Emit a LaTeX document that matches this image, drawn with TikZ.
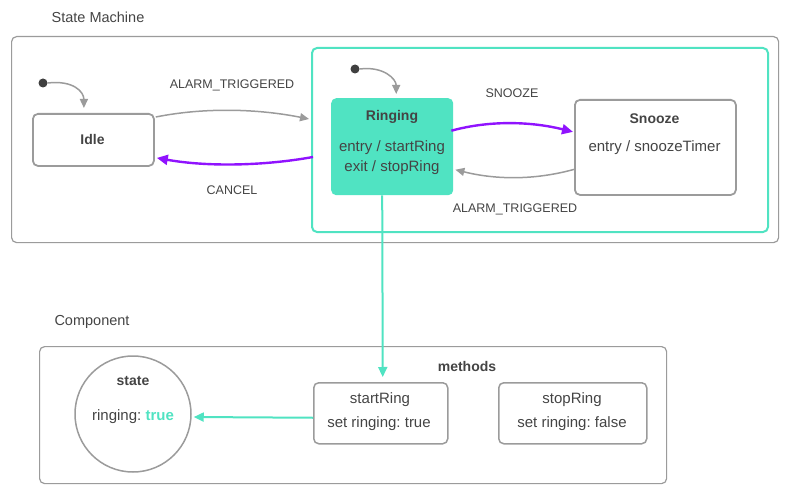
\documentclass[tikz,border=0pt]{standalone}
\usepackage{fontspec}
\setmainfont{Liberation Sans}
\usetikzlibrary{arrows.meta,calc}
\definecolor{tealc}{HTML}{50E3C2}
\definecolor{purp}{HTML}{9013FE}
\definecolor{gline}{HTML}{9B9B9B}
\definecolor{txt}{HTML}{444444}
\definecolor{dotc}{HTML}{3F3F3F}
\begin{document}
\begin{tikzpicture}[x=1pt,y=-1pt,
  frame/.style={draw=gline, line width=1.2pt, rounded corners=5pt, inner sep=0pt, anchor=north west},
  statebox/.style={draw=gline, line width=1.8pt, rounded corners=5pt, inner sep=0pt, anchor=north west},
  txtn/.style={text=txt, inner sep=0pt, font=\fontsize{15}{17}\selectfont},
  ttl/.style={text=txt, inner sep=0pt, font=\fontsize{14}{16}\selectfont\bfseries},
  lbl/.style={text=txt, inner sep=0pt, font=\fontsize{12.5}{14}\selectfont},
  hdr/.style={text=txt, inner sep=0pt, font=\fontsize{14.5}{16}\selectfont},
  initdot/.style={circle, fill=dotc, minimum size=9pt, inner sep=0pt},
  garrow/.style={draw=gline, line width=1.5pt, -{Triangle[width=8pt,length=9pt]}},
  parrow/.style={draw=purp, line width=2.4pt, -{Triangle[width=10pt,length=11pt]}},
  tarrow/.style={draw=tealc, line width=2pt, -{Triangle[width=9pt,length=10pt]}}
]
\useasboundingbox (0,0) rectangle (800,500);

% State machine frame
\node[hdr] (smt) at (98,17) {State Machine};
\node[frame, minimum width=767pt, minimum height=206pt] (sm) at (11,36) {};
\node[draw=tealc, line width=2pt, rounded corners=5pt, inner sep=0pt, anchor=north west,
      minimum width=456pt, minimum height=184pt] (grp) at (311,47) {};

% States
\node[statebox, minimum width=121pt, minimum height=52pt] (idle) at (32,113) {};
\node[ttl] (idlet) at (92.5,139) {Idle};

\node[fill=tealc, rounded corners=5pt, inner sep=0pt, anchor=north west,
      minimum width=122pt, minimum height=97pt] (ringing) at (331,98) {};
\node[ttl] (ringt) at (392,117) {Ringing};
\node[txtn] (ring1) at (392,148) {entry / startRing};
\node[txtn] (ring2) at (392,168) {exit / stopRing};

\node[statebox, minimum width=161pt, minimum height=95pt] (snooze) at (574,99) {};
\node[ttl] (snt) at (654.5,119) {Snooze};
\node[txtn] (sn1) at (654.5,148) {entry / snoozeTimer};

% initial pseudostates
\node[initdot] (i1) at (43,83) {};
\node[initdot] (i2) at (355,69) {};
\draw[garrow] (i1.east) .. controls +(26,-3) and +(0,-16) .. ($(idle.north)+(-9.5,-5)$);
\draw[garrow] (i2.east) .. controls +(24,-3) and +(0,-15) .. ($(ringing.north)+(4,-4)$);

% transitions
\draw[garrow] ($(idle.north east)+(1,4)$) .. controls +(50,-10) and +(-50,-10) .. ($(grp.west)+(-2,-21)$);
\node[lbl] (l1) at (232,85) {ALARM\_TRIGGERED};
\draw[parrow] ($(grp.west)+(2,17)$) .. controls +(-50,9) and +(50,9) .. ($(idle.east)+(2,18)$);
\node[lbl] (l2) at (232,190) {CANCEL};

\draw[parrow] ($(ringing.east)+(-2,-16)$) .. controls +(40,-11) and +(-40,-10) .. ($(snooze.west)+(-1,-15.5)$);
\node[lbl] (l3) at (512,93) {SNOOZE};
\draw[garrow] ($(snooze.west)+(0,22)$) .. controls +(-40,11) and +(40,10) .. ($(ringing.east)+(2,23)$);
\node[lbl] (l4) at (515,209) {ALARM\_TRIGGERED};

% Component
\node[hdr] (compt) at (92,322) {Component};
\node[frame, minimum width=627pt, minimum height=137pt] (comp) at (39,346) {};
\node[circle, draw=gline, line width=1.5pt, minimum size=116pt, inner sep=0pt] (state) at (133,414) {};
\node[ttl] (statet) at (133,381) {state};
\node[txtn] (statev) at (133,417) {ringing:~\textcolor{tealc}{\bfseries true}};
\node[ttl] (meth) at (467,366) {methods};

\node[frame, line width=1.5pt, minimum width=134pt, minimum height=61pt] (startring) at (313,382) {};
\node[txtn] (sr1) at (380,400) {startRing};
\node[txtn] (sr2) at (379,424) {set ringing:~true};
\node[frame, line width=1.5pt, minimum width=148pt, minimum height=61pt] (stopring) at (498,382) {};
\node[txtn] (st1) at (572,400) {stopRing};
\node[txtn] (st2) at (572,424) {set ringing:~false};

\draw[tarrow] ($(ringing.south)+(-10,0)$) -- ($(startring.north)+(2,-5)$);
\draw[tarrow] ($(startring.west)+(0,4.5)$) -- ($(state.east)+(2,3)$);
\end{tikzpicture}
\end{document}
